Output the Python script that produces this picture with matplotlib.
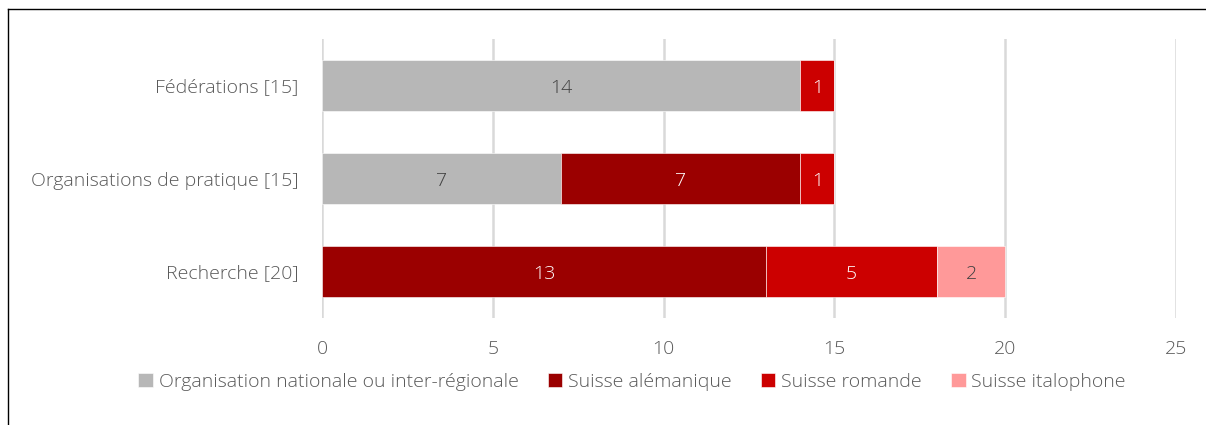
import matplotlib.pyplot as plt
import numpy as np

plt.rcParams['font.family'] = ['Open Sans', 'DejaVu Sans']

categories = ["Recherche [20]", "Organisations de pratique [15]", "Fédérations [15]"]
series_names = ["Organisation nationale ou inter-régionale", "Suisse alémanique",
                "Suisse romande", "Suisse italophone"]
# values per series, in order of categories (bottom to top)
nationale = [0, 7, 14]
alemanique = [13, 7, 0]
romande = [5, 1, 1]
italophone = [2, 0, 0]
series = [nationale, alemanique, romande, italophone]

colors = ["#B7B7B7", "#9B0000", "#CC0000", "#FF9999"]
text_colors = ["#404040", "white", "white", "#404040"]
grey = "#595959"
fs = 14

fig = plt.figure(figsize=(12.06, 4.25), dpi=100)
ax = fig.add_axes([322 / 1206, 1 - 318 / 425, (1176 - 322) / 1206, (318 - 39) / 425])

y = np.arange(len(categories))
left = np.zeros(len(categories))
for vals, name, c, tc in zip(series, series_names, colors, text_colors):
    vals = np.array(vals)
    bars = ax.barh(y, vals, left=left, height=0.55, color=c, label=name,
                   edgecolor="white", linewidth=0.4, zorder=3)
    for b, v in zip(bars, vals):
        if v > 0:
            # nudge slightly down so digits sit in the middle of the bar
            ax.text(b.get_x() + b.get_width() / 2, b.get_y() + b.get_height() / 2 - 0.03,
                    str(v), ha="center", va="center", color=tc, fontsize=fs,
                    fontweight="light", zorder=4)
    left += vals

ax.set_xlim(0, 25)
ax.set_ylim(-0.5, 2.5)
ax.set_xticks(range(0, 26, 5))
ax.set_yticks(y)
ax.set_yticklabels(categories)
ax.tick_params(axis="both", length=0, labelsize=fs, labelcolor=grey)
ax.tick_params(axis="x", pad=16)
ax.tick_params(axis="y", pad=17)
for lbl in ax.get_xticklabels() + ax.get_yticklabels():
    lbl.set_fontweight("light")
ax.grid(axis="x", color="#D9D9D9", linewidth=1.8, zorder=0)
for s in ax.spines.values():
    s.set_visible(False)

ax.legend(loc="center", bbox_to_anchor=(632 / 1206, 1 - 382 / 425),
          bbox_transform=fig.transFigure, ncol=4, frameon=False,
          prop={"size": fs, "weight": "light"}, labelcolor=grey,
          handlelength=0.75, handleheight=0.75, handletextpad=0.3, columnspacing=1.5)

# partial frame around the chart (left and top edges)
fig.add_artist(plt.Line2D([8 / 1206, 8 / 1206], [0, 1 - 9 / 425], color="black", linewidth=1))
fig.add_artist(plt.Line2D([8 / 1206, 1], [1 - 9 / 425, 1 - 9 / 425], color="black", linewidth=1))

fig.savefig("out.png", dpi=100)
